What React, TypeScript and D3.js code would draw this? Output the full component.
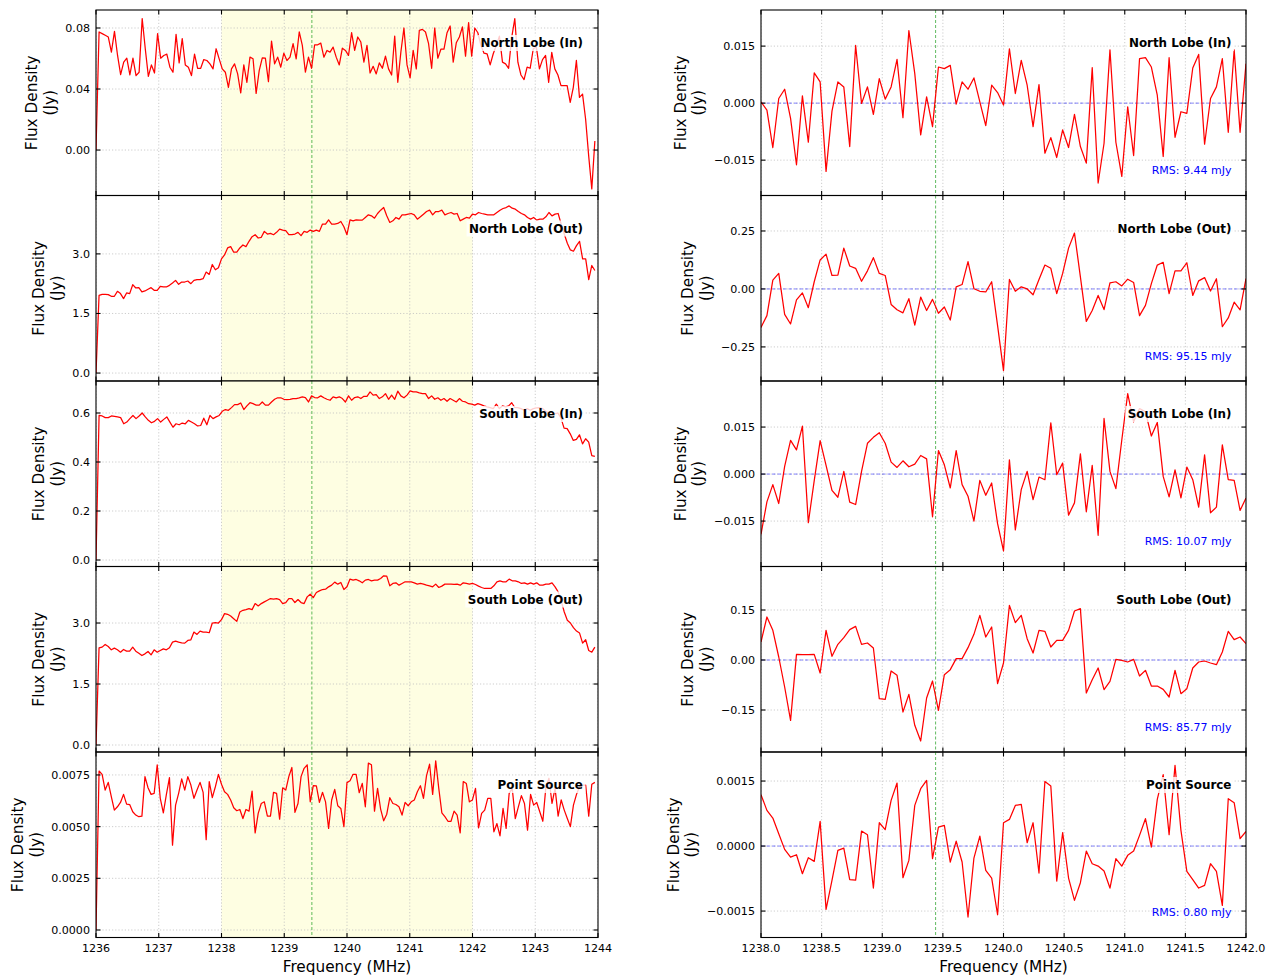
import React, { useEffect, useRef } from 'react';
import * as d3 from 'd3';

// ---------- axes / labels ----------
const LEFT_RANGE = [1236, 1244];
const RIGHT_RANGE = [1238, 1242];
const LEFT_DATA_SPAN = [1236, 1243.95];
const RIGHT_DATA_SPAN = [1238, 1242];
const SPAN_MHZ = [1238, 1242];
const LINE_MHZ = 1239.44;
const LEFT_XTICKS = [1236, 1237, 1238, 1239, 1240, 1241, 1242, 1243, 1244];
const RIGHT_XTICKS = [1238, 1238.5, 1239, 1239.5, 1240, 1240.5, 1241, 1241.5, 1242];

const TITLES = ['North Lobe (In)', 'North Lobe (Out)', 'South Lobe (In)', 'South Lobe (Out)', 'Point Source'];
const RMS_LABELS = ['RMS: 9.44 mJy', 'RMS: 95.15 mJy', 'RMS: 10.07 mJy', 'RMS: 85.77 mJy', 'RMS: 0.80 mJy'];

const LEFT_YLIM = [[-0.0298, 0.0918], [-0.2, 4.47], [-0.0265, 0.7306], [-0.172, 4.39], [-0.000363, 0.00861]];
const RIGHT_YLIM = [[-0.0243, 0.0245], [-0.397, 0.403], [-0.0295, 0.0297], [-0.276, 0.2805], [-0.00211, 0.00217]];
const LEFT_YTICKS = [[0, 0.04, 0.08], [0, 1.5, 3], [0, 0.2, 0.4, 0.6], [0, 1.5, 3], [0, 0.0025, 0.005, 0.0075]];
const LEFT_YDEC = [2, 1, 1, 1, 4];
const RIGHT_YTICKS = [[-0.015, 0, 0.015], [-0.25, 0, 0.25], [-0.015, 0, 0.015], [-0.15, 0, 0.15], [-0.0015, 0, 0.0015]];
const RIGHT_YDEC = [3, 2, 3, 2, 4];

// ---------- spectra (left column) ----------
const northInSpec_mJy = [
  0, 77.4, 76.3, 75.2, 74.1, 64.2, 77.8, 62.0, 49.4, 57.6,
  60.2, 49.2, 60.2, 48.8, 51.0, 86.2, 66.4, 48.3, 55.8, 50.5,
  76.3, 60.2, 62.0, 62.9, 54.3, 51.0, 75.8, 57.1, 73.0, 55.8,
  54.3, 48.8, 62.9, 53.6, 53.6, 59.3, 58.7, 56.5, 53.2, 66.4,
  59.8, 53.2, 51.0, 41.1, 53.2, 56.5, 49.9, 37.4, 55.8, 44.4,
  60.9, 59.8, 37.1, 52.1, 60.4, 60.2, 44.8, 71.4, 56.5, 60.9,
  54.3, 63.5, 58.7, 60.9, 69.7, 59.8, 77.4, 68.6, 51.0, 60.9,
  53.6, 69.0, 69.0, 70.1, 60.9, 65.3, 64.2, 67.5, 60.9, 55.8,
  66.8, 65.3, 62.0, 76.9, 65.3, 74.1, 70.8, 57.6, 68.6, 50.5,
  54.9, 49.9, 57.1, 53.6, 61.5, 53.2, 49.2, 74.7, 44.4, 64.2,
  80.0, 55.8, 47.3, 65.3, 53.2, 78.5, 79.1, 77.4, 69.7, 53.6,
  80.0, 60.2, 66.1, 66.1, 76.9, 81.3, 57.6, 70.3, 74.1, 80.7,
  61.5, 83.5, 61.5, 80.0, 76.9, 68.6, 63.5, 63.1, 55.8, 63.1,
  68.6, 74.7, 57.6, 56.5, 53.6, 73.9, 86.2, 57.6, 49.2, 46.2,
  54.3, 53.6, 66.4, 67.5, 53.2, 59.3, 62.0, 44.4, 64.0, 53.2,
  49.2, 42.2, 42.2, 42.2, 31.2, 41.1, 58.7, 34.5, 36.7, 20.2,
  -4.0, -25.5, 5.9,
];
const northOutSpec = [
  0, 1.958, 1.983, 1.983, 1.975, 1.933, 1.933, 2.058, 2.0, 1.875,
  2.017, 2.0, 2.225, 2.142, 2.15, 2.042, 2.067, 2.108, 2.15, 2.083,
  2.083, 2.183, 2.167, 2.167, 2.208, 2.267, 2.333, 2.233, 2.292, 2.292,
  2.317, 2.25, 2.333, 2.35, 2.35, 2.375, 2.542, 2.483, 2.733, 2.6,
  2.65, 2.875, 2.975, 3.15, 3.183, 3.042, 3.042, 3.15, 3.225, 3.183,
  3.317, 3.433, 3.483, 3.4, 3.417, 3.567, 3.5, 3.517, 3.483, 3.542,
  3.625, 3.6, 3.583, 3.483, 3.483, 3.5, 3.542, 3.458, 3.567, 3.542,
  3.6, 3.567, 3.6, 3.567, 3.75, 3.75, 3.858, 3.75, 3.75, 3.767,
  3.817, 3.683, 3.483, 3.858, 3.833, 3.858, 3.85, 3.85, 3.917, 3.983,
  3.958, 3.9, 4.017, 4.1, 4.167, 3.958, 3.792, 3.833, 3.917, 3.875,
  3.983, 3.983, 4.0, 4.017, 3.983, 3.875, 3.933, 4.0, 4.067, 4.1,
  3.983, 4.067, 4.067, 4.1, 3.983, 4.017, 4.042, 4.0, 4.017, 3.833,
  3.875, 3.917, 3.9, 4.0, 3.983, 4.042, 4.017, 4.0, 3.983, 3.983,
  3.983, 4.042, 4.1, 4.142, 4.167, 4.208, 4.15, 4.125, 4.067, 4.017,
  3.983, 3.917, 3.875, 3.917, 3.85, 3.875, 3.875, 3.933, 4.042, 3.958,
  4.0, 4.017, 3.75, 3.5, 3.267, 3.1, 3.067, 3.208, 3.317, 2.875,
  2.875, 2.35, 2.708, 2.583,
];
const southInSpec = [
  0, 0.590, 0.588, 0.581, 0.581, 0.588, 0.586, 0.584, 0.581, 0.556, 0.563,
  0.577, 0.590, 0.577, 0.588, 0.600, 0.584, 0.570, 0.560, 0.566, 0.577,
  0.563, 0.574, 0.584, 0.563, 0.542, 0.556, 0.552, 0.559, 0.556, 0.570,
  0.563, 0.556, 0.547, 0.549, 0.579, 0.552, 0.590, 0.577, 0.584, 0.590,
  0.607, 0.614, 0.611, 0.622, 0.634, 0.634, 0.641, 0.614, 0.629, 0.642,
  0.638, 0.632, 0.632, 0.645, 0.632, 0.632, 0.645, 0.656, 0.662, 0.662,
  0.656, 0.655, 0.656, 0.659, 0.659, 0.662, 0.666, 0.663, 0.645, 0.670,
  0.663, 0.662, 0.670, 0.662, 0.656, 0.652, 0.666, 0.662, 0.666, 0.659,
  0.645, 0.670, 0.652, 0.663, 0.666, 0.659, 0.668, 0.668, 0.686, 0.673,
  0.675, 0.659, 0.666, 0.679, 0.656, 0.673, 0.656, 0.689, 0.670, 0.662,
  0.673, 0.690, 0.686, 0.686, 0.682, 0.679, 0.679, 0.659, 0.670, 0.656,
  0.662, 0.652, 0.659, 0.648, 0.659, 0.652, 0.645, 0.659, 0.648, 0.645,
  0.638, 0.636, 0.632, 0.638, 0.634, 0.629, 0.625, 0.622, 0.618, 0.636,
  0.618, 0.629, 0.625, 0.629, 0.642, 0.622, 0.622, 0.618, 0.611, 0.618,
  0.611, 0.618, 0.621, 0.622, 0.618, 0.607, 0.601, 0.604, 0.597, 0.600,
  0.579, 0.538, 0.536, 0.515, 0.488, 0.492, 0.511, 0.474, 0.495, 0.481,
  0.426, 0.423,
];
const southOutSpec = [
  0, 2.390, 2.407, 2.473, 2.423, 2.341, 2.382, 2.341, 2.283, 2.349, 2.308,
  2.308, 2.407, 2.308, 2.258, 2.201, 2.242, 2.299, 2.217, 2.341, 2.283,
  2.324, 2.365, 2.341, 2.390, 2.530, 2.555, 2.530, 2.514, 2.505, 2.571,
  2.588, 2.777, 2.720, 2.802, 2.777, 2.777, 2.761, 3.0, 3.008, 3.0,
  3.082, 3.231, 3.214, 3.173, 3.107, 3.041, 3.272, 3.313, 3.330, 3.354,
  3.330, 3.478, 3.420, 3.478, 3.519, 3.560, 3.602, 3.585, 3.602, 3.577,
  3.478, 3.503, 3.602, 3.602, 3.503, 3.577, 3.503, 3.478, 3.643, 3.709,
  3.626, 3.750, 3.791, 3.824, 3.832, 3.890, 3.931, 4.006, 3.956, 3.997,
  3.824, 3.890, 4.080, 4.055, 4.071, 4.038, 3.989, 4.055, 4.071, 4.038,
  4.055, 4.055, 4.096, 4.162, 4.154, 3.915, 3.973, 3.989, 3.931, 3.973,
  4.014, 4.014, 4.014, 3.989, 3.956, 3.973, 3.956, 3.931, 3.915, 3.890,
  3.956, 3.874, 3.907, 3.956, 3.956, 3.956, 3.948, 3.956, 3.931, 3.989,
  3.973, 3.956, 3.973, 3.948, 3.907, 3.874, 3.849, 3.849, 3.849, 3.915,
  4.014, 4.038, 4.014, 4.014, 4.080, 4.038, 4.038, 4.014, 3.973, 3.989,
  3.956, 3.989, 3.956, 3.989, 3.931, 3.931, 3.956, 3.956, 3.989, 3.890,
  3.767, 3.544, 3.272, 3.066, 3.0, 2.885, 2.802, 2.753, 2.505, 2.588,
  2.324, 2.283, 2.407,
];
const pointSpec_mJy = [
  0, 7.69, 7.53, 6.77, 7.14, 6.45, 5.80, 5.96, 6.17, 6.56, 6.09,
  6.07, 5.72, 5.56, 5.48, 5.51, 7.42, 6.88, 6.56, 6.61, 7.99,
  6.37, 5.67, 6.56, 7.37, 4.10, 6.04, 6.61, 7.31, 6.77, 7.42,
  7.01, 6.37, 6.77, 7.14, 6.66, 4.37, 7.18, 6.40, 6.93, 7.53,
  7.05, 6.69, 6.56, 6.29, 5.91, 5.77, 5.83, 5.39, 5.83, 5.75,
  6.72, 4.70, 5.64, 6.12, 6.20, 5.51, 5.51, 6.66, 6.61, 5.36,
  6.88, 6.77, 7.42, 7.86, 5.69, 6.12, 7.42, 7.82, 7.99, 6.20,
  6.98, 6.97, 6.17, 6.66, 6.20, 4.91, 6.29, 6.80, 6.01, 5.88,
  5.00, 7.13, 7.22, 7.53, 7.53, 6.64, 7.09, 5.96, 8.07, 7.99,
  5.75, 6.85, 5.85, 5.28, 5.60, 6.40, 6.12, 6.07, 5.96, 5.56,
  6.17, 6.01, 6.20, 6.29, 6.69, 6.98, 6.37, 7.47, 8.02, 6.56,
  8.18, 6.85, 5.67, 5.48, 5.26, 5.26, 5.75, 5.56, 4.70, 7.18,
  7.09, 6.20, 6.29, 6.85, 4.94, 5.64, 5.80, 6.37, 6.37, 4.75,
  5.15, 4.55, 5.88, 4.91, 6.61, 6.85, 5.39, 5.96, 6.50, 6.12,
  4.83, 6.56, 6.04, 6.17, 5.72, 5.26, 6.93, 7.34, 6.12, 6.85,
  5.51, 6.29, 5.80, 5.39, 5.00, 6.04, 6.56, 6.93, 7.01, 7.01,
  5.51, 7.05, 7.14,
];

// ---------- residuals (right column) ----------
const northInResid_mJy = [
  0.35, -1.83, -11.68, 1.22, 3.66, -4.01, -16.22, 1.92, -10.29, 7.94,
  5.58, -17.96, -2.09, 5.58, 4.27, -11.42, 15.17, -0.09, 4.27, -2.96,
  6.45, 1.05, 4.27, 11.51, -3.84, 19.10, 7.76, -8.37, 1.66, -6.19,
  9.50, 9.07, 9.94, -0.26, 5.58, 3.66, 6.63, 0.35, -5.93, 4.71,
  2.79, -0.52, 14.30, 2.53, 11.25, 4.71, -6.19, 4.88, -13.17, -9.07,
  -14.30, -7.06, -11.68, -2.96, -11.42, -15.78, 9.33, -21.02, -10.55, 14.04,
  -10.29, -19.27, -0.96, -13.78, 11.68, 11.95, 9.50, 2.09, -14.04, 11.95,
  -8.98, -2.27, -2.70, 9.24, 12.82, -10.81, 1.22, 4.27, 11.68, -7.67,
  14.04, -7.67, 10.38,
];
const northOutResid = [
  -0.166, -0.115, 0.038, 0.067, -0.110, -0.151, -0.047, -0.017, -0.081, 0.031,
  0.125, 0.150, 0.058, 0.060, 0.176, 0.099, 0.089, 0.033, 0.078, 0.135,
  0.067, 0.058, -0.067, -0.090, -0.103, -0.042, -0.156, -0.035, -0.093, -0.045,
  -0.105, -0.078, -0.134, 0.009, 0.019, 0.118, 0.001, -0.010, -0.013, 0.031,
  -0.158, -0.352, 0.041, -0.010, 0.009, 0.0, -0.025, 0.041, 0.103, 0.089,
  -0.020, 0.067, 0.176, 0.241, 0.052, -0.140, -0.093, -0.028, -0.089, 0.026,
  0.031, 0.013, 0.042, 0.028, -0.115, -0.071, 0.023, 0.103, 0.115, -0.020,
  0.078, 0.078, 0.113, -0.028, 0.035, 0.049, -0.009, 0.044, -0.163, -0.125,
  -0.057, -0.090, 0.045,
];
const southInResid_mJy = [
  -19.22, -8.87, -3.38, -9.40, 2.43, 10.77, 7.71, 15.32, -15.53, -2.11,
  10.67, 2.75, -5.18, -7.39, 0.85, -8.98, -9.72, 0.85, 9.82, 11.72,
  13.20, 9.82, 3.80, 2.11, 4.23, 2.32, 3.17, 5.92, 4.86, -13.63,
  7.50, 2.96, -4.44, 7.50, -3.38, -7.08, -15.0, -2.01, -6.76, -2.85,
  -15.84, -24.51, 4.54, -17.85, -4.96, 0.85, -8.13, -0.95, -1.80, 16.37,
  -0.21, 3.49, -13.10, -9.19, 6.44, -12.04, 2.75, -19.54, 17.75, 0.85,
  -4.65, 10.88, 25.67, 16.69, 20.91, 19.86, 12.15, 16.48, -0.74, -7.29,
  1.37, -7.61, 2.22, -1.80, -10.56, 6.13, -12.36, -10.56, 9.30, -1.80,
  -2.01, -11.62, -7.61,
];
const southOutResid = [
  0.054, 0.129, 0.089, 0.009, -0.081, -0.181, 0.017, 0.016, 0.016, 0.017,
  -0.039, 0.089, 0.011, 0.047, 0.067, 0.091, 0.101, 0.047, 0.051, 0.036,
  -0.116, -0.118, -0.033, -0.046, -0.156, -0.103, -0.196, -0.243, -0.114, -0.063,
  -0.151, -0.044, -0.029, 0.004, 0.004, 0.037, 0.077, 0.134, 0.069, 0.099,
  -0.071, -0.009, 0.164, 0.112, 0.134, 0.064, 0.021, 0.089, 0.086, 0.039,
  0.059, 0.059, 0.089, 0.147, 0.154, -0.099, -0.059, -0.024, -0.089, -0.064,
  0.002, -0.001, -0.006, 0.002, -0.048, -0.031, -0.078, -0.078, -0.088, -0.111,
  -0.031, -0.101, -0.086, -0.024, -0.006, -0.003, -0.009, -0.014, 0.024, 0.086,
  0.061, 0.069, 0.049,
];
const pointResid_mJy = [
  1.185, 0.823, 0.646, 0.285, -0.077, -0.254, -0.200, -0.638, -0.269, -0.354,
  0.569, -1.462, -0.792, -0.100, -0.046, -0.777, -0.785, 0.346, 0.262, -0.969,
  0.538, 0.377, 1.054, 1.454, -0.731, -0.331, 0.938, 1.323, 1.515, -0.292,
  0.438, 0.477, -0.369, 0.115, -0.369, -1.638, -0.277, 0.231, -0.562, -0.738,
  -1.585, 0.538, 0.615, 0.938, 0.962, 0.077, 0.538, -0.623, 1.492, 1.385,
  -0.808, 0.308, -0.738, -1.254, -0.846, -0.115, -0.408, -0.462, -0.577, -0.969,
  -0.292, -0.462, -0.215, -0.115, 0.246, 0.631, -0.023, 1.077, 1.646, 0.262,
  1.862, 0.362, -0.585, -0.777, -0.969, -0.908, -0.408, -0.585, -1.369, 1.092,
  1.000, 0.169, 0.338,
];

// series with unit factor (mJy -> Jy)
const LEFT_SERIES: [number[], number][] = [
  [northInSpec_mJy, 0.001], [northOutSpec, 1], [southInSpec, 1], [southOutSpec, 1], [pointSpec_mJy, 0.001],
];
const RIGHT_SERIES: [number[], number][] = [
  [northInResid_mJy, 0.001], [northOutResid, 1], [southInResid_mJy, 0.001], [southOutResid, 1], [pointResid_mJy, 0.001],
];

export default function App() {
  const ref = useRef<SVGSVGElement>(null);

  useEffect(() => {
    const svg = d3.select(ref.current);
    svg.selectAll('*').remove();
    const FONT = "'DejaVu Sans', sans-serif";
    const TOP = 10;
    const ROW_H = 185.5;
    const TICK = 4.5;
    const defs = svg.append('defs');

    const cols = [
      { x0: 96, x1: 598, range: LEFT_RANGE, span: LEFT_DATA_SPAN, xticks: LEFT_XTICKS, xfmt: d3.format('d'),
        ylims: LEFT_YLIM, yticks: LEFT_YTICKS, ydec: LEFT_YDEC, series: LEFT_SERIES, left: true },
      { x0: 761, x1: 1246, range: RIGHT_RANGE, span: RIGHT_DATA_SPAN, xticks: RIGHT_XTICKS, xfmt: d3.format('.1f'),
        ylims: RIGHT_YLIM, yticks: RIGHT_YTICKS, ydec: RIGHT_YDEC, series: RIGHT_SERIES, left: false },
    ];

    cols.forEach((col, ci) => {
      const x = d3.scaleLinear().domain(col.range).range([col.x0, col.x1]);
      for (let r = 0; r < 5; r++) {
        const y0 = TOP + r * ROW_H;
        const y1 = y0 + ROW_H;
        const y = d3.scaleLinear().domain(col.ylims[r]).range([y1, y0]);
        const clipId = `clip-${ci}-${r}`;
        defs.append('clipPath').attr('id', clipId)
          .append('rect').attr('x', col.x0).attr('y', y0).attr('width', col.x1 - col.x0).attr('height', ROW_H);
        const g = svg.append('g');
        const pg = g.append('g').attr('clip-path', `url(#${clipId})`);

        if (col.left) {
          pg.append('rect')
            .attr('x', x(SPAN_MHZ[0])).attr('y', y0)
            .attr('width', x(SPAN_MHZ[1]) - x(SPAN_MHZ[0])).attr('height', ROW_H)
            .attr('fill', '#fefee2');
        }
        // grid
        col.xticks.forEach((t) => {
          pg.append('line').attr('x1', x(t)).attr('x2', x(t)).attr('y1', y0).attr('y2', y1)
            .attr('stroke', '#c0c0c0').attr('stroke-width', 0.8).attr('stroke-dasharray', '1.2,2');
        });
        col.yticks[r].forEach((t) => {
          pg.append('line').attr('x1', col.x0).attr('x2', col.x1).attr('y1', y(t)).attr('y2', y(t))
            .attr('stroke', '#c0c0c0').attr('stroke-width', 0.8).attr('stroke-dasharray', '1.2,2');
        });
        if (!col.left) {
          pg.append('line').attr('x1', col.x0).attr('x2', col.x1).attr('y1', y(0)).attr('y2', y(0))
            .attr('stroke', '#0000ff').attr('stroke-opacity', 0.55).attr('stroke-width', 0.9)
            .attr('stroke-dasharray', '3.5,2');
        }
        pg.append('line').attr('x1', x(LINE_MHZ)).attr('x2', x(LINE_MHZ)).attr('y1', y0).attr('y2', y1)
          .attr('stroke', '#1e9e1e').attr('stroke-opacity', 0.7).attr('stroke-width', 1)
          .attr('stroke-dasharray', '3,2');

        const [vals, k] = col.series[r];
        const idx = d3.scaleLinear().domain([0, vals.length - 1]).range(col.span);
        const line = d3.line<number>().x((_, i) => x(idx(i))).y((d) => y(d * k));
        pg.append('path').attr('d', line(vals) as string).attr('fill', 'none')
          .attr('stroke', '#ff0000').attr('stroke-width', 1.25).attr('stroke-linejoin', 'round');

        // title label with white box
        const tx = col.x0 + 0.97 * (col.x1 - col.x0);
        const ty = y0 + 33;
        const box = g.append('rect');
        const title = g.append('text').attr('x', tx).attr('y', ty).attr('dy', '0.36em')
          .attr('text-anchor', 'end').attr('font-family', FONT).attr('font-weight', 'bold')
          .attr('font-size', 11.9).attr('fill', '#000').text(TITLES[r]);
        const tw = (title.node() as SVGTextElement).getComputedTextLength();
        box.attr('x', tx - tw - 2.5).attr('y', ty - 8).attr('width', tw + 5).attr('height', 16)
          .attr('fill', '#fff').attr('fill-opacity', 0.8);

        if (!col.left) {
          g.append('text').attr('x', tx).attr('y', y1 - 25).attr('dy', '0.36em')
            .attr('text-anchor', 'end').attr('font-family', FONT).attr('font-size', 11)
            .attr('fill', '#0000ff').text(RMS_LABELS[r]);
        }

        // spines
        g.append('rect').attr('x', col.x0).attr('y', y0).attr('width', col.x1 - col.x0).attr('height', ROW_H)
          .attr('fill', 'none').attr('stroke', '#000').attr('stroke-width', 1.1);
        // ticks (inward, all sides)
        col.xticks.forEach((t) => {
          g.append('line').attr('x1', x(t)).attr('x2', x(t)).attr('y1', y1).attr('y2', y1 - TICK)
            .attr('stroke', '#000').attr('stroke-width', 1.1);
          g.append('line').attr('x1', x(t)).attr('x2', x(t)).attr('y1', y0).attr('y2', y0 + TICK)
            .attr('stroke', '#000').attr('stroke-width', 1.1);
        });
        const fmt = d3.format(`.${col.ydec[r]}f`);
        let maxW = 0;
        col.yticks[r].forEach((t) => {
          g.append('line').attr('x1', col.x0).attr('x2', col.x0 + TICK).attr('y1', y(t)).attr('y2', y(t))
            .attr('stroke', '#000').attr('stroke-width', 1.1);
          g.append('line').attr('x1', col.x1).attr('x2', col.x1 - TICK).attr('y1', y(t)).attr('y2', y(t))
            .attr('stroke', '#000').attr('stroke-width', 1.1);
          const lab = g.append('text').attr('x', col.x0 - 6).attr('y', y(t)).attr('dy', '0.36em')
            .attr('text-anchor', 'end').attr('font-family', FONT).attr('font-size', 11.1)
            .attr('fill', '#000').text(fmt(t));
          maxW = Math.max(maxW, (lab.node() as SVGTextElement).getComputedTextLength());
        });
        // y label (two lines)
        const lx2 = col.x0 - 6 - maxW - 16;
        const lx1 = lx2 - 17.5;
        const cy = (y0 + y1) / 2;
        [['Flux Density', lx1], ['(Jy)', lx2]].forEach(([txt, lx]) => {
          g.append('text').attr('transform', `translate(${lx},${cy}) rotate(-90)`)
            .attr('text-anchor', 'middle').attr('dy', '0.36em').attr('font-family', FONT)
            .attr('font-size', 15.3).attr('fill', '#000').text(txt as string);
        });

        if (r === 4) {
          col.xticks.forEach((t) => {
            g.append('text').attr('x', x(t)).attr('y', y1 + 10.5).attr('dy', '0.36em')
              .attr('text-anchor', 'middle').attr('font-family', FONT).attr('font-size', 11.1)
              .attr('fill', '#000').text(col.xfmt(t));
          });
          g.append('text').attr('x', (col.x0 + col.x1) / 2).attr('y', y1 + 28.5).attr('dy', '0.36em')
            .attr('text-anchor', 'middle').attr('font-family', FONT).attr('font-size', 15.3)
            .attr('fill', '#000').text('Frequency (MHz)');
        }
      }
    });
  }, []);

  return (
    <svg ref={ref} width={1279} height={979}
      style={{ position: 'absolute', left: 0, top: 0, background: '#ffffff' }} />
  );
}
